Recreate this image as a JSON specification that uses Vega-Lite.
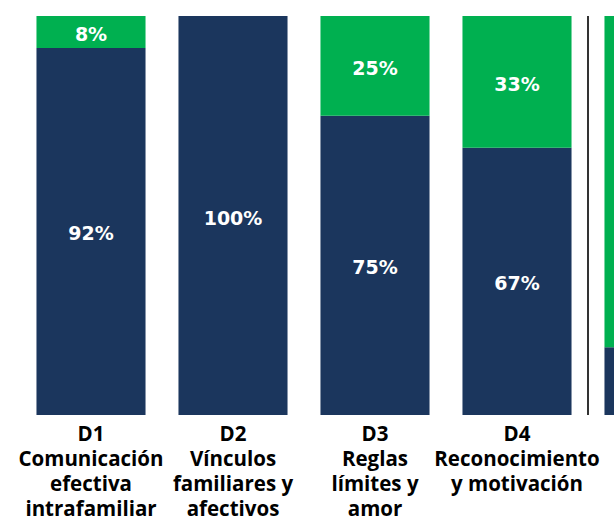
{
  "$schema": "https://vega.github.io/schema/vega-lite/v6.json",
  "autosize": "none",
  "width": 710,
  "height": 399,
  "padding": {"left": 20, "top": 16, "right": 0, "bottom": 108},
  "background": "white",
  "config": {"view": {"stroke": null}, "font": "Open Sans"},
  "data": {"values": [
    {"dim": "D1|Comunicación|efectiva|intrafamiliar", "grp": "Sí", "ord": 1, "value": 92},
    {"dim": "D1|Comunicación|efectiva|intrafamiliar", "grp": "No", "ord": 2, "value": 8},
    {"dim": "D2|Vínculos|familiares y|afectivos", "grp": "Sí", "ord": 1, "value": 100},
    {"dim": "D3|Reglas|límites y|amor", "grp": "Sí", "ord": 1, "value": 75},
    {"dim": "D3|Reglas|límites y|amor", "grp": "No", "ord": 2, "value": 25},
    {"dim": "D4|Reconocimiento|y motivación", "grp": "Sí", "ord": 1, "value": 67},
    {"dim": "D4|Reconocimiento|y motivación", "grp": "No", "ord": 2, "value": 33},
    {"dim": "D5", "grp": "Sí", "ord": 1, "value": 17},
    {"dim": "D5", "grp": "No", "ord": 2, "value": 83}
  ]},
  "transform": [
    {"stack": "value", "groupby": ["dim"], "sort": [{"field": "ord", "order": "ascending"}], "as": ["v0", "v1"]},
    {"calculate": "(datum.v0 + datum.v1) / 2", "as": "mid"},
    {"calculate": "datum.value + '%'", "as": "pct"}
  ],
  "encoding": {
    "x": {
      "field": "dim", "type": "nominal", "sort": null,
      "scale": {"paddingInner": 0.232, "paddingOuter": 0.116},
      "axis": {
        "title": null, "domain": false, "ticks": false, "labelAngle": 0,
        "labelExpr": "datum.label == 'D5' ? '' : split(datum.label, '|')",
        "labelFontSize": 20.5, "labelFontWeight": "bold", "labelColor": "#000000",
        "labelLineHeight": 25, "labelPadding": 9, "labelBaseline": "top",
        "labelLimit": 400, "labelOverlap": false
      }
    }
  },
  "layer": [
    {
      "mark": {"type": "bar"},
      "encoding": {
        "y": {"field": "v0", "type": "quantitative", "scale": {"domain": [0, 100]}, "axis": null},
        "y2": {"field": "v1"},
        "color": {"field": "grp", "type": "nominal", "scale": {"domain": ["Sí", "No"], "range": ["#1b365d", "#00b050"]}, "legend": null}
      }
    },
    {
      "transform": [{"filter": "datum.dim != 'D5'"}],
      "mark": {"type": "text", "color": "white", "fontWeight": "bold", "fontSize": 19, "font": "DejaVu Sans", "baseline": "middle", "dy": 3},
      "encoding": {
        "y": {"field": "mid", "type": "quantitative"},
        "text": {"field": "pct", "type": "nominal"},
        "detail": {"field": "grp"}
      }
    },
    {
      "data": {"values": [{"dim": "D5"}]},
      "transform": [],
      "mark": {"type": "rule", "color": "#333333", "strokeWidth": 2},
      "encoding": {
        "x": {"field": "dim", "type": "nominal", "bandPosition": -0.151},
        "y": {"datum": 100},
        "y2": {"datum": 0}
      }
    }
  ]
}
